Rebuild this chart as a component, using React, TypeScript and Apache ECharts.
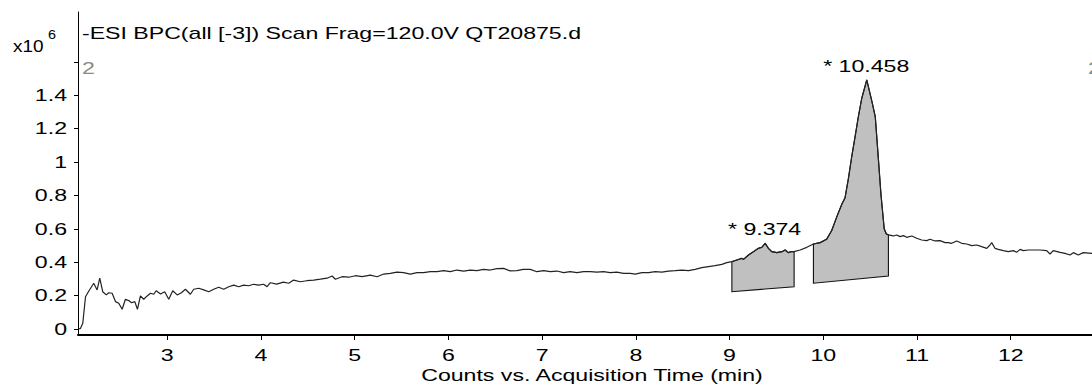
import React, { useEffect, useRef } from "react";
import * as echarts from "echarts";

// ---- data ----
const TRACE_X = [
  2.055, 2.076, 2.1, 2.129, 2.16, 2.217, 2.253, 2.281, 2.313, 2.35, 2.377, 2.413, 2.449, 2.484, 2.52, 2.555, 2.59, 2.62,
  2.655, 2.683, 2.715, 2.75, 2.787, 2.822, 2.857, 2.883, 2.929, 2.974, 3.017, 3.06, 3.107, 3.152, 3.195, 3.248, 3.284,
  3.337, 3.39, 3.444, 3.497, 3.55, 3.604, 3.657, 3.71, 3.764, 3.817, 3.87, 3.923, 3.977, 4.03, 4.066, 4.101, 4.17, 4.24,
  4.297, 4.35, 4.42, 4.49, 4.563, 4.635, 4.706, 4.76, 4.795, 4.866, 4.937, 5.008, 5.08, 5.168, 5.24, 5.31, 5.38, 5.452,
  5.523, 5.594, 5.666, 5.736, 5.808, 5.879, 5.95, 6.02, 6.092, 6.163, 6.234, 6.305, 6.376, 6.447, 6.519, 6.59, 6.66,
  6.73, 6.8, 6.874, 6.945, 7.016, 7.087, 7.159, 7.23, 7.3, 7.372, 7.443, 7.514, 7.585, 7.656, 7.727, 7.798, 7.869, 7.94,
  7.994, 8.065, 8.136, 8.207, 8.278, 8.349, 8.42, 8.49, 8.562, 8.633, 8.704, 8.775, 8.846, 8.918, 8.97, 9.025, 9.078,
  9.131, 9.149, 9.202, 9.255, 9.308, 9.344, 9.38, 9.415, 9.451, 9.504, 9.558, 9.593, 9.628, 9.654, 9.689, 9.753, 9.824,
  9.895, 9.966, 10.037, 10.09, 10.143, 10.2, 10.232, 10.268, 10.303, 10.339, 10.374, 10.41, 10.464, 10.52, 10.555,
  10.58, 10.615, 10.65, 10.672, 10.695, 10.748, 10.784, 10.82, 10.855, 10.89, 10.944, 10.997, 11.05, 11.104, 11.139,
  11.192, 11.246, 11.299, 11.334, 11.37, 11.424, 11.477, 11.53, 11.584, 11.637, 11.69, 11.744, 11.779, 11.797, 11.832,
  11.868, 11.921, 11.974, 12.028, 12.063, 12.099, 12.134, 12.188, 12.241, 12.312, 12.383, 12.419, 12.454, 12.526,
  12.579, 12.632, 12.668, 12.721, 12.774, 12.863, 12.9,
];
const TRACE_Y = [
  0.0, 0.004, 0.034, 0.193, 0.223, 0.274, 0.234, 0.304, 0.223, 0.204, 0.217, 0.214, 0.164, 0.154, 0.118, 0.178, 0.17,
  0.157, 0.164, 0.118, 0.198, 0.178, 0.198, 0.214, 0.208, 0.229, 0.21, 0.223, 0.178, 0.229, 0.204, 0.217, 0.238, 0.208,
  0.238, 0.244, 0.234, 0.223, 0.238, 0.25, 0.238, 0.253, 0.263, 0.253, 0.263, 0.259, 0.268, 0.263, 0.268, 0.253, 0.277,
  0.269, 0.281, 0.274, 0.293, 0.283, 0.289, 0.293, 0.298, 0.304, 0.317, 0.298, 0.313, 0.31, 0.319, 0.313, 0.323, 0.313,
  0.329, 0.333, 0.34, 0.337, 0.329, 0.337, 0.337, 0.343, 0.343, 0.349, 0.343, 0.353, 0.347, 0.353, 0.349, 0.357, 0.353,
  0.361, 0.363, 0.348, 0.349, 0.357, 0.357, 0.343, 0.349, 0.343, 0.347, 0.337, 0.343, 0.337, 0.343, 0.343, 0.34, 0.343,
  0.337, 0.34, 0.333, 0.333, 0.328, 0.337, 0.337, 0.343, 0.34, 0.347, 0.349, 0.353, 0.349, 0.357, 0.367, 0.373, 0.379,
  0.387, 0.397, 0.403, 0.413, 0.423, 0.417, 0.443, 0.463, 0.483, 0.489, 0.513, 0.483, 0.463, 0.457, 0.463, 0.473, 0.457,
  0.463, 0.463, 0.473, 0.489, 0.509, 0.517, 0.538, 0.59, 0.67, 0.75, 0.785, 0.9, 1.03, 1.15, 1.27, 1.38, 1.491, 1.36,
  1.27, 1.08, 0.81, 0.6, 0.57, 0.563, 0.557, 0.563, 0.553, 0.559, 0.549, 0.557, 0.543, 0.533, 0.529, 0.537, 0.527, 0.529,
  0.517, 0.517, 0.513, 0.527, 0.513, 0.509, 0.499, 0.503, 0.493, 0.483, 0.503, 0.517, 0.483, 0.477, 0.469, 0.463, 0.469,
  0.459, 0.477, 0.469, 0.473, 0.473, 0.473, 0.469, 0.449, 0.469, 0.459, 0.453, 0.443, 0.457, 0.443, 0.457, 0.453, 0.45,
];

const PEAK_LABELS = ["* 9.374", "* 10.458"];
const PEAK_RT = [9.374, 10.458];
const PEAK_START = [9.025, 9.895];
const PEAK_END = [9.689, 10.695];
const PEAK_BASE_START = [0.223, 0.274];
const PEAK_BASE_END = [0.253, 0.317];

const X_TICKS = [3, 4, 5, 6, 7, 8, 9, 10, 11, 12];
const Y_TICKS = [0, 0.2, 0.4, 0.6, 0.8, 1, 1.2, 1.4, 1.6];
const Y_LABELS = [0, 0.2, 0.4, 0.6, 0.8, 1, 1.2, 1.4];

const X_MIN = 2.049;
const X_MAX = 12.867;
const Y_MIN = -0.036;
const Y_MAX = 1.898;

const TITLE = "-ESI BPC(all [-3]) Scan Frag=120.0V QT20875.d";
const X_NAME = "Counts vs. Acquisition Time (min)";
const TRACE_NUMBER = "2";

const FONT = "'Liberation Sans', Arial, Helvetica, sans-serif";
const STRETCH = 1.36;

function txt(text: string, x: number, y: number, align: string, opts: any = {}) {
  const size = opts.size ?? 17;
  const color = opts.color ?? "#000";
  return {
    type: "text",
    x,
    y,
    scaleX: opts.scaleX ?? STRETCH,
    silent: true,
    z: 100,
    style: {
      text,
      x: 0,
      y: 0,
      fontSize: size,
      fontFamily: FONT,
      fill: color,
      align,
      verticalAlign: "middle",
      textAlign: align,
      textVerticalAlign: "middle",
    },
  };
}

export default function App() {
  const ref = useRef<HTMLDivElement>(null);

  useEffect(() => {
    const el = ref.current!;
    const chart = echarts.init(el, undefined, { renderer: "svg" });

    const traceData = TRACE_X.map((x, i) => [x, TRACE_Y[i]]);
    const peakData = PEAK_START.map((s, i) => [s, PEAK_END[i], i]);

    chart.setOption({
      animation: false,
      backgroundColor: "#fff",
      grid: { left: 78, right: 0, top: 12, bottom: 54, containLabel: false },
      xAxis: {
        type: "value",
        min: X_MIN,
        max: X_MAX,
        axisLine: { show: true, onZero: false, lineStyle: { color: "#000", width: 2 } },
        axisTick: { show: true, length: 5, inside: false, customValues: X_TICKS, lineStyle: { color: "#000", width: 1 } },
        axisLabel: { show: false },
        splitLine: { show: false },
      },
      yAxis: {
        type: "value",
        min: Y_MIN,
        max: Y_MAX,
        axisLine: { show: true, onZero: false, lineStyle: { color: "#000", width: 1 } },
        axisTick: { show: true, length: 4, inside: false, customValues: Y_TICKS, lineStyle: { color: "#000", width: 1 } },
        axisLabel: { show: false },
        splitLine: { show: false },
      },
      series: [
        {
          type: "custom",
          z: 2,
          clip: true,
          encode: { x: [0, 1] },
          data: peakData,
          renderItem: (params: any, api: any) => {
            const i = api.value(2);
            const s = PEAK_START[i];
            const e = PEAK_END[i];
            const pts: number[][] = [];
            for (let k = 0; k < TRACE_X.length; k++) {
              if (TRACE_X[k] >= s - 1e-9 && TRACE_X[k] <= e + 1e-9) {
                pts.push(api.coord([TRACE_X[k], TRACE_Y[k]]));
              }
            }
            pts.push(api.coord([e, PEAK_BASE_END[i]]));
            pts.push(api.coord([s, PEAK_BASE_START[i]]));
            return {
              type: "polygon",
              shape: { points: pts },
              style: { fill: "#c0c0c0", stroke: "#111", lineWidth: 1.1 },
            };
          },
        },
        {
          type: "line",
          z: 3,
          data: traceData,
          showSymbol: false,
          symbol: "none",
          clip: true,
          lineStyle: { color: "#222", width: 1.2 },
        },
      ],
    });

    const axisLeft = chart.convertToPixel({ xAxisIndex: 0 }, X_MIN) as number;
    const axisRight = chart.convertToPixel({ xAxisIndex: 0 }, X_MAX) as number;
    const axisBottom = chart.convertToPixel({ yAxisIndex: 0 }, Y_MIN) as number;
    const axisTop = chart.convertToPixel({ yAxisIndex: 0 }, Y_MAX) as number;

    const els: any[] = [];
    Y_LABELS.forEach((v) => {
      const py = chart.convertToPixel({ yAxisIndex: 0 }, v) as number;
      els.push(txt(String(v), axisLeft - 11, py, "right"));
    });
    X_TICKS.forEach((v) => {
      const px = chart.convertToPixel({ xAxisIndex: 0 }, v) as number;
      els.push(txt(String(v), px, axisBottom + 20, "center"));
    });
    els.push(txt(X_NAME, (axisLeft + axisRight) / 2 + 7, axisBottom + 40, "center"));
    els.push(txt(TITLE, axisLeft + 4, axisTop + 21, "left"));
    els.push(txt("x10", 13, axisTop + 34, "left", { size: 16.5, scaleX: 1.15 }));
    els.push(txt("6", 48, axisTop + 23, "left", { size: 12, scaleX: 1.2 }));
    els.push(txt(TRACE_NUMBER, axisLeft + 4, axisTop + 56, "left", { color: "#8a8a8a" }));
    els.push(txt(TRACE_NUMBER, axisRight - 4, axisTop + 56, "left", { color: "#8a8a8a" }));

    PEAK_RT.forEach((rt, i) => {
      let ymax = -Infinity;
      for (let k = 0; k < TRACE_X.length; k++) {
        if (TRACE_X[k] >= PEAK_START[i] && TRACE_X[k] <= PEAK_END[i]) ymax = Math.max(ymax, TRACE_Y[k]);
      }
      const p = chart.convertToPixel({ gridIndex: 0 }, [rt, ymax]) as number[];
      els.push(txt(PEAK_LABELS[i], p[0], p[1] - 14, "center"));
    });

    chart.setOption({ graphic: { elements: els } });

    return () => chart.dispose();
  }, []);

  return (
    <div
      ref={ref}
      style={{ position: "fixed", left: 0, top: 0, width: 1092, height: 389, background: "#fff" }}
    />
  );
}
